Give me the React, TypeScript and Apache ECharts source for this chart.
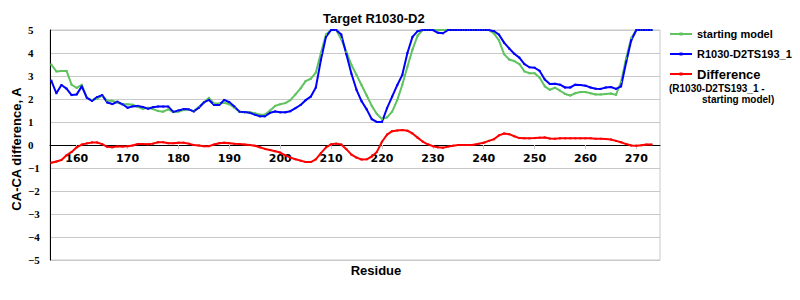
import React, { useEffect, useRef } from "react";
import * as echarts from "echarts";

const FIRST_RESIDUE = 155;

const startingModel = [
  3.5, 3.2, 3.22, 3.22, 2.62, 2.48, 2.62, 2.05, 1.95, 2.02,
  2.15, 1.92, 1.92, 1.85, 1.77, 1.77, 1.75, 1.66, 1.57, 1.62,
  1.56, 1.48, 1.45, 1.55, 1.43, 1.45, 1.52, 1.55, 1.47, 1.65,
  1.85, 2.05, 1.8, 1.8, 1.84, 1.77, 1.62, 1.45, 1.42, 1.42,
  1.38, 1.32, 1.32, 1.5, 1.7, 1.77, 1.82, 1.95, 2.2, 2.46,
  2.78, 2.88, 3.15, 4.0, 4.8, 5.0, 5.0, 4.6, 4.05, 3.48,
  3.05, 2.6, 2.15, 1.7, 1.35, 1.13, 1.2, 1.45, 1.95, 2.62,
  3.4, 4.15, 4.75, 5.0, 5.0, 5.0, 5.0, 5.0, 5.0, 5.0,
  5.0, 5.0, 5.0, 5.0, 5.0, 5.0, 5.0, 4.85, 4.55, 3.95,
  3.72, 3.65, 3.52, 3.2, 3.12, 3.12, 2.92, 2.55, 2.4, 2.49,
  2.36, 2.22, 2.15, 2.25, 2.3, 2.3, 2.25, 2.2, 2.2, 2.22,
  2.24, 2.18, 2.75, 3.77, 4.65, 5.0, 5.0, 5.0, 5.0,
];

const modelTS193 = [
  2.8, 2.25, 2.61, 2.45, 2.17, 2.2, 2.55, 2.05, 1.92, 2.08,
  2.17, 1.85, 1.78, 1.88, 1.77, 1.62, 1.68, 1.7, 1.65, 1.58,
  1.64, 1.67, 1.67, 1.67, 1.44, 1.5, 1.56, 1.55, 1.46, 1.62,
  1.85, 1.96, 1.74, 1.74, 1.96, 1.86, 1.67, 1.45, 1.43, 1.4,
  1.32, 1.25, 1.25, 1.4, 1.46, 1.42, 1.42, 1.47, 1.6, 1.74,
  1.95, 2.1, 2.5, 3.7, 4.7, 5.0, 5.0, 4.8, 3.95, 3.1,
  2.4, 1.9, 1.55, 1.12, 1.0, 1.0, 1.6, 2.1, 2.6, 3.05,
  4.0, 4.7, 4.95, 5.0, 5.0, 5.0, 4.88, 4.86, 5.0, 5.0,
  5.0, 5.0, 5.0, 5.0, 5.0, 5.0, 5.0, 4.95, 4.8, 4.45,
  4.2, 3.97, 3.8, 3.52, 3.38, 3.36, 3.22, 2.85, 2.65, 2.66,
  2.62, 2.5, 2.5, 2.62, 2.61, 2.58, 2.5, 2.45, 2.44, 2.5,
  2.52, 2.44, 2.55, 3.6, 4.55, 5.0, 5.0, 5.0, 5.0,
];

const difference = [
  -0.77, -0.72, -0.65, -0.45, -0.3, -0.1, 0.02, 0.07, 0.11, 0.11,
  0.04, -0.08, -0.1, -0.06, -0.07, -0.05, -0.02, 0.04, 0.04, 0.03,
  0.06, 0.12, 0.12, 0.08, 0.08, 0.1, 0.1, 0.06, 0.0, -0.02,
  -0.05, -0.05, 0.02, 0.08, 0.1, 0.08, 0.05, 0.04, 0.02, 0.0,
  -0.03, -0.1, -0.17, -0.22, -0.27, -0.33, -0.45, -0.55, -0.62, -0.68,
  -0.74, -0.74, -0.62, -0.35, -0.1, 0.03, 0.06, 0.02, -0.18, -0.42,
  -0.55, -0.63, -0.62, -0.5, -0.3, 0.14, 0.45, 0.6, 0.63, 0.65,
  0.62, 0.5, 0.32, 0.15, 0.03, -0.05, -0.1, -0.12, -0.07, -0.03,
  0.0, 0.0, 0.0, 0.01, 0.05, 0.1, 0.18, 0.25, 0.42, 0.5,
  0.47, 0.38, 0.3, 0.29, 0.29, 0.3, 0.32, 0.33, 0.28, 0.27,
  0.29, 0.29, 0.29, 0.29, 0.29, 0.29, 0.29, 0.27, 0.27, 0.26,
  0.24, 0.18, 0.12, 0.04, -0.02, -0.03, -0.01, 0.02, 0.02,
];

const residues = startingModel.map((_, i) => FIRST_RESIDUE + i);
const xTickLabels = [160, 170, 180, 190, 200, 210, 220, 230, 240, 250, 260, 270];

const GREEN = "#5fc35f";
const BLUE = "#0000ff";
const RED = "#ff0000";

const seriesNames = ["starting model", "R1030-D2TS193_1", "Difference"];

const GRID_TOP = 30;
const GRID_BOTTOM = 40;
const CHART_H = 300;

function toPairs(values: number[]) {
  return values.map((v, i) => [residues[i], v]);
}

function lineSeries(name: string, values: number[], color: string) {
  return {
    name,
    type: "line",
    data: toPairs(values),
    symbol: "rect",
    symbolSize: 2,
    showSymbol: true,
    lineStyle: { color, width: 2 },
    itemStyle: { color },
    z: 3,
  };
}

function legendItem(y: number, color: string) {
  return [
    { type: "line", shape: { x1: 670, y1: y, x2: 692, y2: y }, style: { stroke: color, lineWidth: 2 } },
    { type: "rect", shape: { x: 679.5, y: y - 1.5, width: 3, height: 3 }, style: { fill: color } },
  ];
}

export default function App() {
  const ref = useRef<HTMLDivElement>(null);
  useEffect(() => {
    if (!ref.current) return;
    document.body.style.margin = "0";
    const chart = echarts.init(ref.current, undefined, { renderer: "svg" });
    const gridH = CHART_H - GRID_TOP - GRID_BOTTOM;
    chart.setOption({
      animation: false,
      backgroundColor: "#ffffff",
      title: {
        text: "Target R1030-D2",
        left: 318,
        top: 7,
        textStyle: { fontFamily: "Liberation Sans", fontWeight: "bold", fontSize: 13, color: "#000" },
      },
      grid: {
        left: 50,
        right: 140,
        top: GRID_TOP,
        bottom: GRID_BOTTOM,
        show: true,
        borderColor: "#c8c8c8",
        borderWidth: 1,
        backgroundColor: "transparent",
      },
      xAxis: {
        type: "value",
        min: 154.75,
        max: 274.65,
        position: "bottom",
        offset: -gridH / 2,
        axisLine: { show: true, onZero: false, lineStyle: { color: "#000", width: 1 } },
        axisTick: { show: true, length: 4, customValues: xTickLabels, lineStyle: { color: "#c8c8c8" } },
        axisLabel: {
          customValues: xTickLabels,
          margin: 8,
          fontFamily: "DejaVu Sans",
          fontWeight: "bold",
          fontSize: 11,
          color: "#000",
        },
        splitLine: { show: false },
      },
      yAxis: {
        type: "value",
        min: -5,
        max: 5,
        interval: 1,
        axisLine: { show: true, onZero: false, lineStyle: { color: "#000", width: 1 } },
        axisTick: { show: false },
        axisLabel: {
          align: "left",
          margin: 22,
          fontFamily: "Liberation Serif",
          fontWeight: "bold",
          fontSize: 11,
          color: "#000",
          formatter: (v: number) => (v < 0 ? "\u2212" + Math.abs(v) : String(v)),
        },
        splitLine: { show: true, lineStyle: { color: "#c8c8c8", width: 1 } },
      },
      series: [
        lineSeries(seriesNames[0], startingModel, GREEN),
        lineSeries(seriesNames[1], modelTS193, BLUE),
        lineSeries(seriesNames[2], difference, RED),
      ],
      graphic: [
        {
          type: "text",
          x: 16,
          y: 149,
          rotation: Math.PI / 2,
          style: {
            text: "CA-CA difference, A",
            align: "center",
            verticalAlign: "middle",
            font: "bold 13px 'Liberation Sans'",
            fill: "#000",
          },
        },
        {
          type: "text",
          x: 376,
          y: 270,
          style: {
            text: "Residue",
            align: "center",
            verticalAlign: "middle",
            font: "bold 13px 'Liberation Sans'",
            fill: "#000",
          },
        },
        ...legendItem(34, GREEN),
        ...legendItem(54, BLUE),
        ...legendItem(74, RED),
        {
          type: "text",
          x: 697,
          y: 34,
          style: { text: seriesNames[0], verticalAlign: "middle", font: "bold 11px 'Liberation Sans'", fill: "#000" },
        },
        {
          type: "text",
          x: 697,
          y: 54,
          style: { text: seriesNames[1], verticalAlign: "middle", font: "bold 11px 'Liberation Sans'", fill: "#000" },
        },
        {
          type: "text",
          x: 697,
          y: 74,
          style: { text: seriesNames[2], verticalAlign: "middle", font: "bold 13px 'Liberation Sans'", fill: "#000" },
        },
        {
          type: "text",
          x: 669,
          y: 88,
          style: { text: "(R1030-D2TS193_1 -", verticalAlign: "middle", font: "bold 10px 'Liberation Sans'", fill: "#000" },
        },
        {
          type: "text",
          x: 702,
          y: 99,
          style: { text: "starting model)", verticalAlign: "middle", font: "bold 10px 'Liberation Sans'", fill: "#000" },
        },
      ],
    });
    return () => chart.dispose();
  }, []);
  return <div ref={ref} style={{ width: 800, height: 300 }} />;
}
